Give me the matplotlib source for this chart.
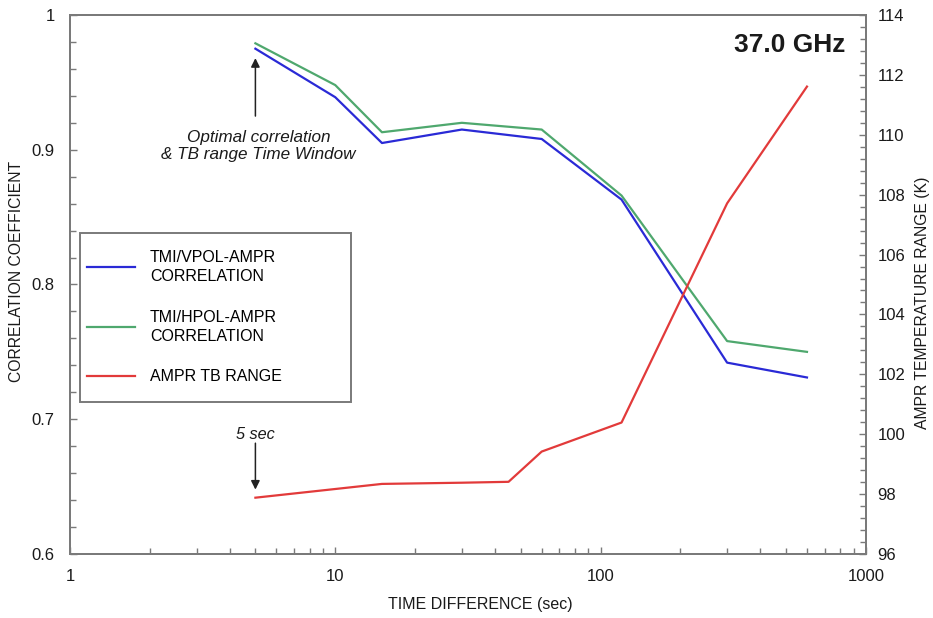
import matplotlib
matplotlib.use("Agg")
import matplotlib.pyplot as plt
from matplotlib.patches import Rectangle
from matplotlib.ticker import FixedLocator, MultipleLocator, NullFormatter, LogLocator

plt.rcParams['font.family'] = ['Liberation Sans', 'DejaVu Sans']

# Time differences (sec)
time_corr = [5, 10, 15, 30, 60, 120, 300, 600]
time_tb = [5, 10, 15, 30, 45, 60, 120, 300, 600]

# Correlation coefficients
vpol_corr = [0.975, 0.939, 0.905, 0.915, 0.908, 0.863, 0.742, 0.731]
hpol_corr = [0.979, 0.948, 0.913, 0.920, 0.915, 0.866, 0.758, 0.750]

# AMPR brightness temperature range (K)
tb_range = [97.88, 98.17, 98.34, 98.38, 98.41, 99.42, 100.39, 107.71, 111.61]

x_ticks = [1, 10, 100, 1000]
x_tick_labels = ["1", "10", "100", "1000"]
left_ticks = [0.6, 0.7, 0.8, 0.9, 1.0]
left_tick_labels = ["0.6", "0.7", "0.8", "0.9", "1"]
right_ticks = [96, 98, 100, 102, 104, 106, 108, 110, 112, 114]

spine_color = "#7a7a7a"
text_color = "#1a1a1a"
c_blue = "#2a2ad6"
c_green = "#4fa86e"
c_red = "#e23a3a"

fig = plt.figure(figsize=(9.33, 6.18), dpi=100)
ax = fig.add_axes([0.075, 0.1036, 0.853, 0.8721])
ax2 = ax.twinx()

l1, = ax.plot(time_corr, vpol_corr, color=c_blue, lw=1.6, label="TMI/VPOL-AMPR\nCORRELATION")
l2, = ax.plot(time_corr, hpol_corr, color=c_green, lw=1.6, label="TMI/HPOL-AMPR\nCORRELATION")
l3, = ax2.plot(time_tb, tb_range, color=c_red, lw=1.6, label="AMPR TB RANGE")

ax.set_xscale("log")
ax.set_xlim(1, 1000)
ax.set_ylim(0.6, 1.0)
ax2.set_ylim(96, 114)

ax.xaxis.set_major_locator(FixedLocator(x_ticks))
ax.set_xticklabels(x_tick_labels)
ax.xaxis.set_minor_locator(LogLocator(base=10, subs=range(2, 10)))
ax.xaxis.set_minor_formatter(NullFormatter())

ax.yaxis.set_major_locator(FixedLocator(left_ticks))
ax.set_yticklabels(left_tick_labels)
ax.yaxis.set_minor_locator(MultipleLocator(0.02))

ax2.yaxis.set_major_locator(FixedLocator(right_ticks))
ax2.set_yticklabels([str(t) for t in right_ticks])
ax2.yaxis.set_minor_locator(MultipleLocator(0.4))

for a in (ax, ax2):
    for s in a.spines.values():
        s.set_color(spine_color)
        s.set_linewidth(1.4)
    a.tick_params(which="both", direction="in", color=spine_color, width=1.0,
                  labelsize=12, labelcolor=text_color)
    a.tick_params(which="major", length=5)
    a.tick_params(which="minor", length=4)

ax.tick_params(axis="x", which="major", pad=11)
ax.tick_params(axis="y", which="major", pad=11)
ax2.tick_params(axis="y", which="major", pad=8.5)

ax.set_xlabel("TIME DIFFERENCE (sec)", fontsize=11.5, color=text_color)
ax.xaxis.set_label_coords(0.515, -0.080)
ax.set_ylabel("CORRELATION COEFFICIENT", fontsize=11.3, color=text_color)
ax.yaxis.set_label_coords(-0.058, 0.525)
ax2.set_ylabel("AMPR TEMPERATURE RANGE (K)", fontsize=11.3, color=text_color)
ax2.yaxis.set_label_coords(1.062, 0.466)

ax.text(0.974, 0.944, "37.0 GHz", transform=ax.transAxes, ha="right", va="center",
        fontsize=19, fontweight="bold", color=text_color)

# Annotation: optimal window arrow
ax.annotate("", xy=(5, 0.968), xytext=(5, 0.925),
            arrowprops=dict(arrowstyle="-|>", color="#222222", lw=1.1,
                            mutation_scale=13, shrinkA=0, shrinkB=0))
ax.text(5.13, 0.9025, "Optimal correlation\n& TB range Time Window", ha="center", va="center",
        fontsize=12.3, style="italic", color=text_color, linespacing=1.15)

# Annotation: 5 sec arrow
ax2.annotate("", xy=(5, 98.15), xytext=(5, 99.7),
             arrowprops=dict(arrowstyle="-|>", color="#222222", lw=1.1,
                             mutation_scale=13, shrinkA=0, shrinkB=0))
ax2.text(5, 100.0, "5 sec", ha="center", va="center", fontsize=11.7,
         style="italic", color=text_color)

# Legend entries with a separate frame
frame = Rectangle((0.0126, 0.282), 0.34, 0.314, transform=ax2.transAxes,
                  facecolor="white", edgecolor=spine_color, lw=1.4, zorder=4)
ax2.add_patch(frame)
leg = ax2.legend(handles=[l1, l2, l3], loc="upper left",
                 bbox_to_anchor=(0.0214, 0.564), frameon=False,
                 fontsize=11.5, handlelength=3.0, handletextpad=0.95,
                 labelspacing=1.6, borderpad=0, borderaxespad=0)
for t in leg.get_texts():
    t.set_linespacing(1.34)
leg.set_zorder(5)

fig.savefig("out.png", dpi=100, facecolor="white")
